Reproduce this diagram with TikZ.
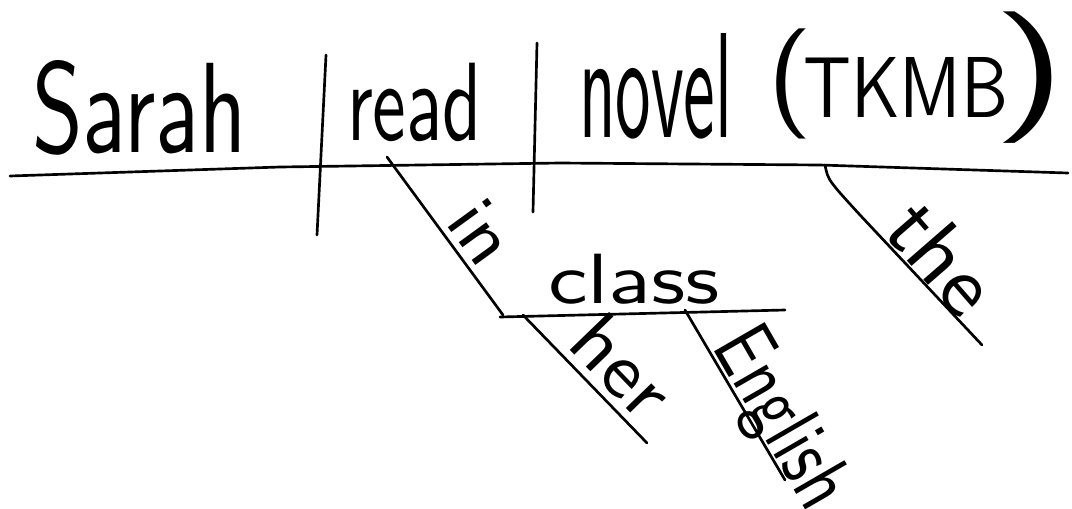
\documentclass[tikz,border=0pt]{standalone}
\usepackage{fontspec}
\usepackage{graphicx}
\tikzset{
  ink/.style={line width=2pt, line cap=round, line join=round, black},
  word/.style={inner sep=0pt, outer sep=0pt, black, font=\sffamily}
}
\begin{document}
\begin{tikzpicture}[x=0.75pt, y=-0.75pt]
\useasboundingbox (0,0) rectangle (1072,508);
% coordinates
\coordinate (mL) at (10,176);
\coordinate (m1) at (280,167);
\coordinate (m2) at (560,163);
\coordinate (m3) at (820,165);
\coordinate (mR) at (1068,173);
\coordinate (d1t) at (326,55);
\coordinate (d1b) at (317,235);
\coordinate (d2t) at (537,43);
\coordinate (d2b) at (533,212);
\coordinate (inT) at (387,157);
\coordinate (inB) at (503,315);
\coordinate (clL) at (500,317);
\coordinate (clR) at (785,310);
\coordinate (herT) at (523,315);
\coordinate (herB) at (647,443);
\coordinate (enT) at (685,310);
\coordinate (enB) at (785,480);
\coordinate (thT) at (825,165);
\coordinate (thB) at (982,345);
% lines
\draw[ink] (mL) -- (m1) -- (m2) -- (m3) -- (mR);
\draw[ink] (d1t) -- (d1b);
\draw[ink] (d2t) -- (d2b);
\draw[ink] (inT) -- (inB);
\draw[ink] (clL) -- (clR);
\draw[ink] (herT) -- (herB);
\draw[ink] (enT) -- (enB);
\draw[ink] (thT) .. controls (828,180) .. (860,215) -- (thB);
% words
\node[word, anchor=base west] (sarah) at (32,152) {\resizebox{161pt}{69pt}{Sarah}};
\node[word, anchor=base west] (read) at (347,140) {\resizebox{101pt}{58pt}{read}};
\node[word, anchor=base west] (novel) at (579,137) {\resizebox{115pt}{78pt}{novel}};
\node[word, anchor=base west] (tkmb) at (767,117) {\raisebox{4pt}{\resizebox{34pt}{62pt}{(}}\hspace{-7pt}\resizebox{154pt}{45pt}{TKMB}\hspace{-12pt}\raisebox{5pt}{\resizebox{56pt}{74pt}{)}}};
\node[word, anchor=base west] (class) at (548,303) {\resizebox{129pt}{37pt}{class}};
\node[word, rotate=-54] (in) at (482,232) {\resizebox{45pt}{37pt}{in}};
\node[word, rotate=-46] (her) at (623,366) {\resizebox{82pt}{41pt}{her}};
\node[word, rotate=-60] (english) at (778,420) {\resizebox{145pt}{44pt}{English}};
\node[word, rotate=-49] (the) at (943,257) {\resizebox{90pt}{45pt}{the}};
\end{tikzpicture}
\end{document}
